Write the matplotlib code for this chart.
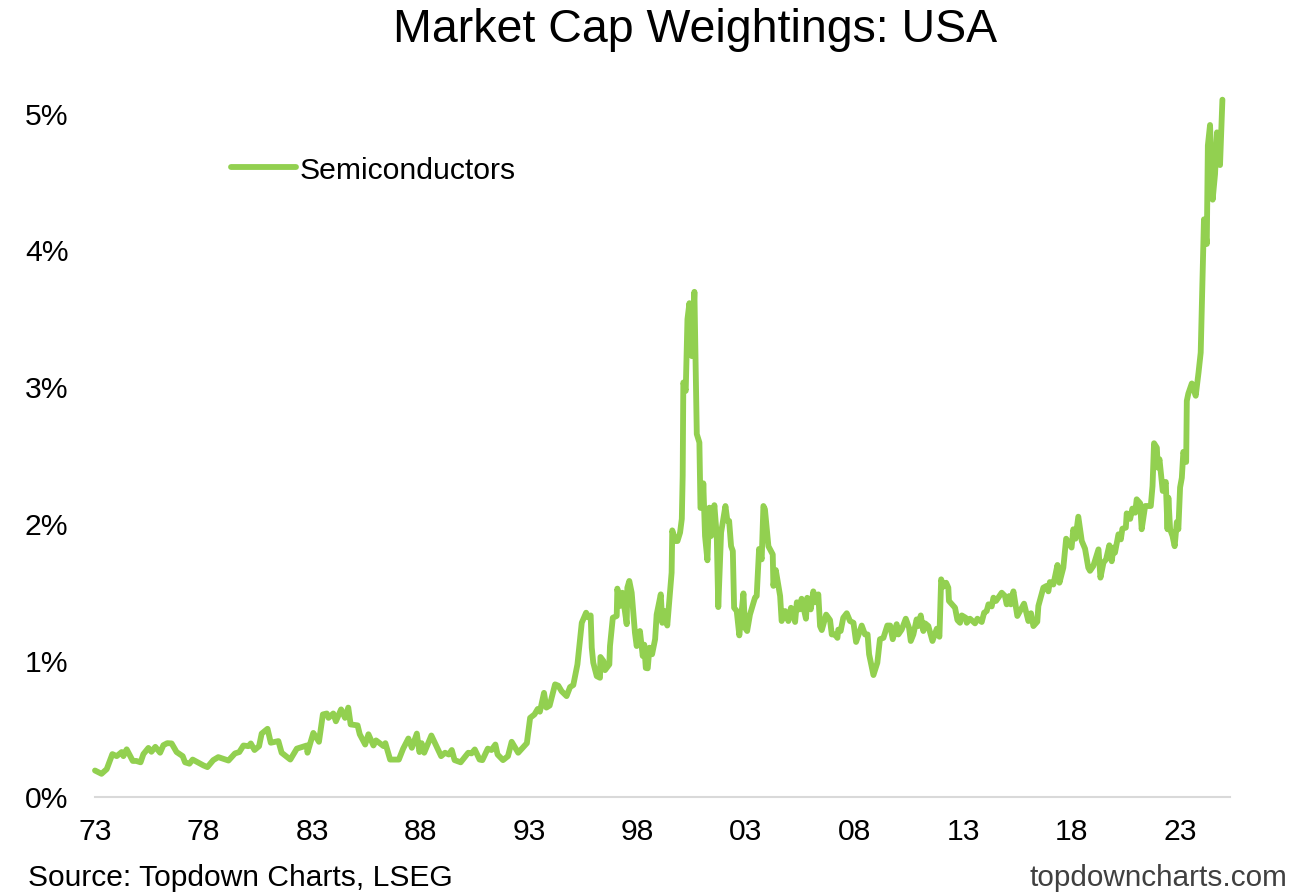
import matplotlib
matplotlib.use("Agg")
import matplotlib.pyplot as plt

plt.rcParams['font.family'] = ['Liberation Sans', 'DejaVu Sans']

# values, decimal year and % weight
years_73_92 = [1973.0, 1973.3, 1973.54, 1973.8, 1974.0, 1974.23, 1974.31, 1974.46, 1974.74, 1974.9, 1975.1,
               1975.23, 1975.46, 1975.6, 1975.78, 1976.0, 1976.15, 1976.33, 1976.53, 1976.76, 1977.04, 1977.15,
               1977.35, 1977.5, 1978.0, 1978.18, 1978.45, 1978.68, 1979.15, 1979.45, 1979.65, 1979.84, 1980.07,
               1980.18, 1980.35, 1980.56, 1980.68, 1980.95, 1981.1, 1981.45, 1981.6, 1982.0, 1982.3, 1982.76,
               1982.79, 1983.06, 1983.32, 1983.5, 1983.68, 1983.76, 1983.98, 1984.1, 1984.34, 1984.52, 1984.67,
               1984.78, 1985.1, 1985.2, 1985.45, 1985.6, 1985.83, 1985.95, 1986.3, 1986.38, 1986.6, 1987.0,
               1987.2, 1987.44, 1987.6, 1987.83, 1987.95, 1988.05, 1988.17, 1988.5, 1988.95, 1989.13, 1989.3,
               1989.44, 1989.57, 1989.85, 1990.2, 1990.35, 1990.5, 1990.72, 1990.85, 1991.1, 1991.27, 1991.45,
               1991.55, 1991.8, 1992.03, 1992.2, 1992.5, 1992.9]
weights_73_92 = [0.19, 0.166, 0.20, 0.31, 0.295, 0.325, 0.295, 0.345, 0.26, 0.26, 0.25,
                 0.31, 0.355, 0.327, 0.363, 0.32, 0.375, 0.39, 0.388, 0.325, 0.295, 0.25,
                 0.24, 0.27, 0.227, 0.215, 0.266, 0.288, 0.263, 0.315, 0.325, 0.373, 0.368,
                 0.388, 0.34, 0.368, 0.46, 0.495, 0.393, 0.405, 0.32, 0.27, 0.35, 0.373,
                 0.32, 0.465, 0.40, 0.60, 0.607, 0.575, 0.607, 0.55, 0.637, 0.575, 0.65,
                 0.527, 0.52, 0.455, 0.38, 0.455, 0.373, 0.41, 0.368, 0.39, 0.27, 0.27,
                 0.35, 0.424, 0.356, 0.46, 0.325, 0.39, 0.32, 0.446, 0.295, 0.32, 0.307,
                 0.34, 0.266, 0.25, 0.32, 0.315, 0.344, 0.27, 0.266, 0.35, 0.34, 0.38,
                 0.307, 0.266, 0.295, 0.40, 0.32, 0.39]

years_93_06 = [1993.05, 1993.25, 1993.4, 1993.5, 1993.69, 1993.8, 1993.95, 1994.2, 1994.35, 1994.5, 1994.73,
               1994.89, 1995.04, 1995.23, 1995.43, 1995.63, 1995.73, 1995.84, 1995.89, 1995.96, 1996.12,
               1996.27, 1996.29, 1996.43, 1996.5, 1996.7, 1996.73, 1996.86, 1997.04, 1997.07, 1997.19, 1997.3,
               1997.5, 1997.53, 1997.62, 1997.73, 1997.88, 1997.96, 1998.11, 1998.24, 1998.31, 1998.38, 1998.47,
               1998.55, 1998.67, 1998.81, 1998.88, 1999.07, 1999.14, 1999.24, 1999.37, 1999.57, 1999.6, 1999.73,
               1999.84, 1999.96, 2000.04, 2000.08, 2000.11, 2000.22, 2000.3, 2000.39, 2000.5, 2000.62, 2000.73,
               2000.85, 2000.9, 2001.0, 2001.03, 2001.11, 2001.22, 2001.31, 2001.39, 2001.54, 2001.65, 2001.72,
               2001.85, 2002.05, 2002.14, 2002.22, 2002.31, 2002.39, 2002.45, 2002.57, 2002.69, 2002.88, 2002.95,
               2003.05, 2003.18, 2003.41, 2003.49, 2003.6, 2003.72, 2003.8, 2003.87, 2004.03, 2004.23, 2004.26,
               2004.37, 2004.57, 2004.64, 2004.8, 2004.95, 2005.07, 2005.26, 2005.34, 2005.46, 2005.56, 2005.76,
               2005.82, 2005.98, 2006.1, 2006.21, 2006.33, 2006.41]
weights_93_06 = [0.575, 0.60, 0.64, 0.62, 0.758, 0.65, 0.665, 0.82, 0.81, 0.77, 0.734,
                 0.80, 0.815, 0.966, 1.27, 1.344, 1.31, 1.324, 1.088, 0.978, 0.88,
                 0.868, 1.02, 0.99, 0.924, 0.966, 1.10, 1.307, 1.32, 1.52, 1.393, 1.49,
                 1.26, 1.527, 1.576, 1.49, 1.198, 1.10, 1.21, 1.027, 1.11, 0.94, 0.937,
                 1.088, 1.04, 1.15, 1.33, 1.478, 1.27, 1.356, 1.25, 1.637, 1.946, 1.868,
                 1.868, 1.93, 2.03, 2.344, 3.027, 2.966, 3.49, 3.607, 3.22, 3.69, 2.65,
                 2.588, 2.11, 2.11, 2.29, 1.905, 1.727, 2.112, 1.905, 2.13, 1.905, 1.385,
                 1.93, 2.124, 2.015, 2.015, 1.83, 1.795, 1.38, 1.356, 1.178, 1.485, 1.234,
                 1.21, 1.33, 1.453, 1.466, 1.81, 1.734, 2.124, 2.10, 1.83, 1.77, 1.54,
                 1.656, 1.466, 1.283, 1.356, 1.283, 1.38, 1.276, 1.42, 1.368, 1.446, 1.30,
                 1.453, 1.368, 1.50, 1.42, 1.478, 1.246]

years_06_19 = [2006.49, 2006.69, 2006.87, 2006.95, 2007.1, 2007.21, 2007.25, 2007.36, 2007.48, 2007.64, 2007.79,
               2007.95, 2008.07, 2008.33, 2008.48, 2008.6, 2008.67, 2008.87, 2009.05, 2009.17, 2009.33, 2009.51,
               2009.64, 2009.76, 2009.94, 2010.02, 2010.17, 2010.36, 2010.51, 2010.59, 2010.71, 2010.86, 2010.94,
               2011.05, 2011.17, 2011.25, 2011.4, 2011.59, 2011.79, 2011.91, 2011.99, 2012.09, 2012.22, 2012.32,
               2012.35, 2012.63, 2012.74, 2012.86, 2012.94, 2013.12, 2013.17, 2013.32, 2013.55, 2013.66, 2013.86,
               2013.97, 2014.09, 2014.17, 2014.32, 2014.4, 2014.52, 2014.78, 2014.93, 2015.01, 2015.13, 2015.2,
               2015.32, 2015.5, 2015.81, 2016.01, 2016.13, 2016.24, 2016.42, 2016.47, 2016.7, 2016.85, 2016.93,
               2017.0, 2017.16, 2017.35, 2017.44, 2017.62, 2017.75, 2018.0, 2018.08, 2018.18, 2018.31, 2018.47,
               2018.62, 2018.77, 2018.85]
weights_06_19 = [1.217, 1.33, 1.29, 1.185, 1.185, 1.16, 1.22, 1.21, 1.307, 1.34, 1.283,
                 1.27, 1.13, 1.25, 1.185, 1.185, 1.04, 0.888, 0.978, 1.15, 1.16, 1.25,
                 1.25, 1.15, 1.26, 1.185, 1.22, 1.30, 1.234, 1.137, 1.185, 1.295, 1.246,
                 1.324, 1.21, 1.266, 1.246, 1.137, 1.227, 1.168, 1.588, 1.534, 1.563, 1.527,
                 1.43, 1.38, 1.29, 1.27, 1.324, 1.307, 1.27, 1.30, 1.266, 1.30, 1.276,
                 1.344, 1.356, 1.405, 1.39, 1.454, 1.43, 1.49, 1.466, 1.405, 1.466, 1.405,
                 1.50, 1.32, 1.41, 1.283, 1.34, 1.246, 1.278, 1.393, 1.527, 1.54, 1.50,
                 1.568, 1.55, 1.693, 1.563, 1.673, 1.885, 1.82, 1.954, 1.885, 2.046, 1.868,
                 1.812, 1.673, 1.65]

years_19_25 = [2019.0, 2019.24, 2019.33, 2019.47, 2019.59, 2019.74, 2019.85, 2019.93, 2020.0, 2020.16, 2020.27,
               2020.34, 2020.5, 2020.54, 2020.7, 2020.8, 2020.93, 2021.0, 2021.16, 2021.23, 2021.39, 2021.65,
               2021.73, 2021.8, 2021.93, 2021.97, 2022.05, 2022.2, 2022.34, 2022.42, 2022.46, 2022.54, 2022.65,
               2022.75, 2022.85, 2022.92, 2023.0, 2023.08, 2023.15, 2023.28, 2023.31, 2023.38, 2023.54, 2023.72,
               2023.85, 2023.95, 2024.1, 2024.23, 2024.28, 2024.38, 2024.5, 2024.61, 2024.7, 2024.84, 2024.95]
weights_19_25 = [1.685, 1.807, 1.60, 1.71, 1.734, 1.837, 1.72, 1.82, 1.783, 1.917, 1.88,
                 1.958, 1.966, 2.07, 2.03, 2.105, 2.075, 2.173, 2.144, 1.954, 2.124, 2.124,
                 2.27, 2.583, 2.55, 2.405, 2.466, 2.234, 2.30, 1.954, 2.185, 1.954, 1.905,
                 1.83, 2.007, 1.954, 2.26, 2.33, 2.52, 2.446, 2.893, 2.946, 3.02, 2.93,
                 3.10, 3.246, 4.22, 4.04, 4.76, 4.91, 4.364, 4.55, 4.856, 4.617, 5.095]

years = years_73_92 + years_93_06 + years_06_19 + years_19_25
weights = weights_73_92 + weights_93_06 + weights_06_19 + weights_19_25

xtick_years = list(range(1973, 2024, 5))
xtick_labels = ['73', '78', '83', '88', '93', '98', '03', '08', '13', '18', '23']
ytick_values = [0, 1, 2, 3, 4, 5]
ytick_labels = ['0%', '1%', '2%', '3%', '4%', '5%']

fig = plt.figure(figsize=(12.97, 8.95), dpi=100)
ax = fig.add_axes([95 / 1297, 1 - 797.5 / 895, (1230 - 95) / 1297, (797.5 - 100) / 895])

ax.plot(years, weights, color='#92D050', lw=4.2, solid_joinstyle='round', solid_capstyle='round',
        clip_on=False, label='Semiconductors')

ax.set_xlim(1973, 2025.3)
ax.set_ylim(0, 5.1)
ax.set_xticks(xtick_years)
ax.set_xticklabels(xtick_labels)
ax.set_yticks(ytick_values)
ax.set_yticklabels(ytick_labels)
ax.tick_params(axis='both', length=0, labelsize=21.7, labelcolor='black')
ax.tick_params(axis='x', pad=15)
ax.tick_params(axis='y', pad=19)

for side in ['top', 'right', 'left']:
    ax.spines[side].set_visible(False)
ax.spines['bottom'].set_color('#D9D9D9')
ax.spines['bottom'].set_linewidth(1.5)

ax.legend(loc='upper left', bbox_to_anchor=(231 / 1297, 1 - 157 / 895), bbox_transform=fig.transFigure,
          frameon=False, fontsize=21.7, handlelength=2.15, handletextpad=0.12, borderpad=0, borderaxespad=0)

fig.text(695 / 1297, 1 - 30 / 895, 'Market Cap Weightings: USA', fontsize=33.5, ha='center', va='center',
         color='black')
fig.text(28 / 1297, 1 - 878 / 895, 'Source: Topdown Charts, LSEG', fontsize=21.6, ha='left', va='center',
         color='black')
fig.text(1287 / 1297, 1 - 878 / 895, 'topdowncharts.com', fontsize=21.4, ha='right', va='center',
         color='#404040')

fig.savefig('out.png', dpi=100)
